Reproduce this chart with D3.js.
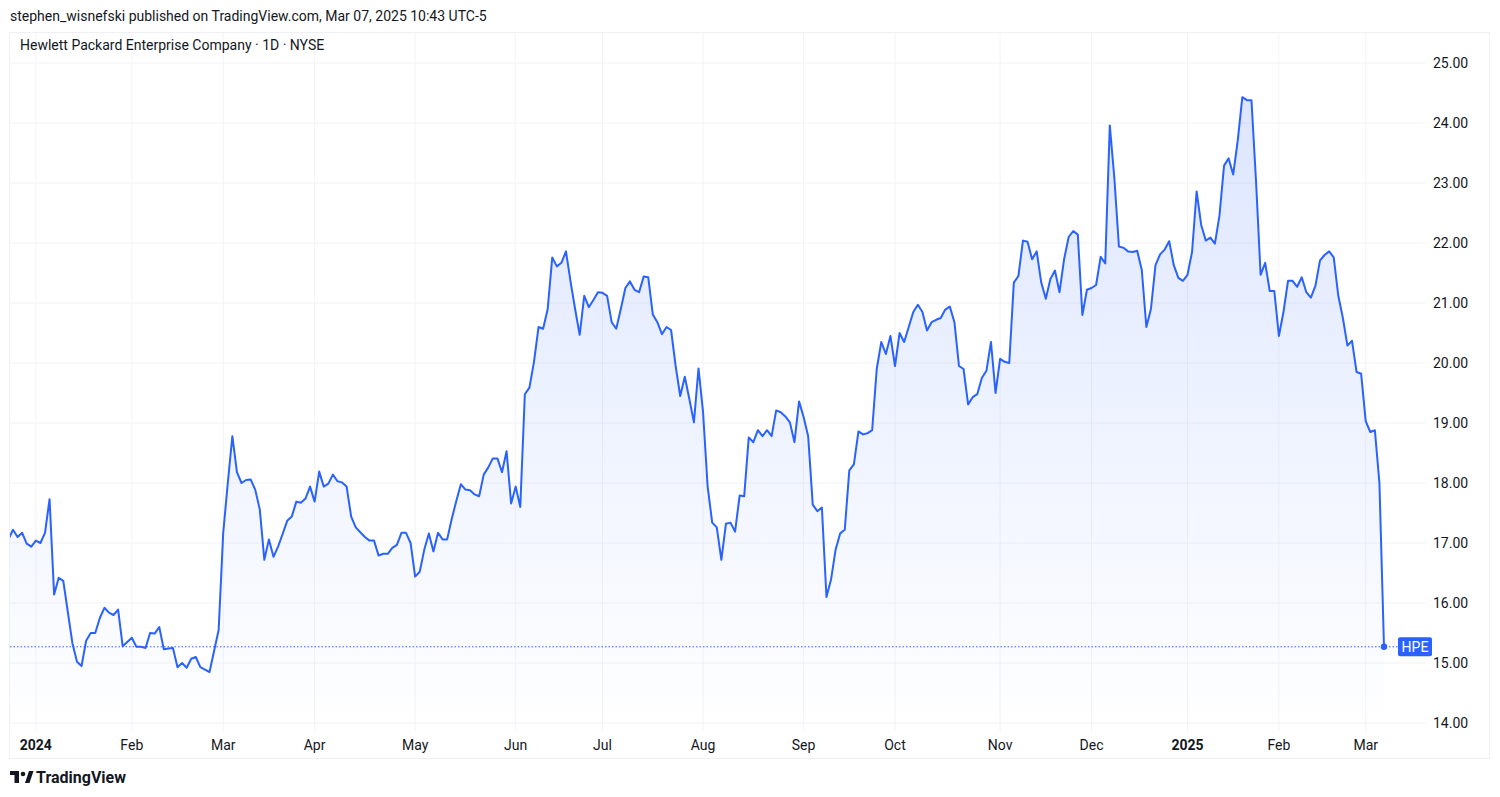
<!DOCTYPE html>
<html><head><meta charset="utf-8">
<script src="https://cdn.jsdelivr.net/npm/d3@7/dist/d3.min.js"></script>
<style>body{margin:0;background:#fff;font-family:Roboto,"Noto Sans",sans-serif;}</style>
</head><body><svg id="c" width="1500" height="797"></svg>
<script>
const title = "stephen_wisnefski published on TradingView.com, Mar 07, 2025 10:43 UTC-5";
const legend = "Hewlett Packard Enterprise Company · 1D · NYSE";
const symbol = "HPE";
const yTicks = [14,15,16,17,18,19,20,21,22,23,24,25];
const monthNames = ["Jan","Feb","Mar","Apr","May","Jun","Jul","Aug","Sep","Oct","Nov","Dec"];
const holidays = ["2023-12-25","2024-01-01","2024-01-15","2024-02-19","2024-03-29","2024-05-27","2024-06-19","2024-07-04","2024-09-02","2024-11-28","2024-12-25","2025-01-01","2025-01-09","2025-01-20","2025-02-17"];
const lastDate = "2025-03-07";
const closes2024H1 = [17.06,17.22,17.1,17.17,16.99,16.94,17.04,17.0,17.17,17.73,16.14,16.42,16.37,15.85,15.33,15.02,14.95,15.37,15.5,15.5,15.75,15.92,15.84,15.8,15.89,15.28,15.35,15.42,15.27,15.27,15.25,15.5,15.49,15.6,15.23,15.24,15.25,14.93,15.0,14.92,15.07,15.1,14.93,14.89,14.85,15.2,15.55,17.17,18.0,18.78,18.18,18.0,18.05,18.06,17.89,17.56,16.72,17.06,16.77,16.94,17.15,17.37,17.44,17.69,17.67,17.74,17.94,17.69,18.19,17.94,17.99,18.14,18.03,18.01,17.94,17.44,17.26,17.18,17.1,17.04,17.04,16.79,16.82,16.82,16.92,16.97,17.17,17.17,17.0,16.44,16.52,16.89,17.16,16.86,17.17,17.06,17.06,17.4,17.7,17.98,17.89,17.88,17.81,17.78,18.14,18.26,18.41,18.41];
const closes2024Mid = [18.18,18.53,17.66,17.94,17.6,19.48,19.59,20.02,20.6,20.57,20.9,21.76,21.61,21.67,21.86,21.36,20.9,20.47,21.12,20.93,21.05,21.18,21.17,21.12,20.68,20.57,20.9,21.25,21.36,21.22,21.18,21.44,21.43,20.81,20.68,20.48,20.6,20.55,19.95,19.45,19.77,19.4,19.01,19.91,19.18,17.94,17.34,17.26,16.72,17.32,17.34,17.19,17.79,17.78,18.76,18.68,18.88,18.78,18.88,18.78,19.21,19.18,19.11,19.01,18.68,19.36,19.1,18.78,17.64,17.53,17.59,16.1,16.39,16.89,17.16,17.22,18.21,18.31,18.86,18.81,18.83,18.88,19.9,20.35,20.15,20.45,19.95,20.5,20.35,20.6,20.85,20.97,20.85,20.54,20.68,20.72,20.75,20.89,20.94,20.68,19.95];
const closesLate = [19.9,19.31,19.43,19.48,19.75,19.87,20.35,19.5,20.07,20.02,20.0,21.34,21.45,22.04,22.02,21.73,21.86,21.34,21.07,21.4,21.54,21.18,21.73,22.1,22.2,22.14,20.8,21.22,21.25,21.3,21.77,21.66,23.96,23.08,21.94,21.92,21.86,21.85,21.87,21.55,20.6,20.9,21.63,21.81,21.89,22.03,21.63,21.42,21.37,21.47,21.85,22.86,22.3,22.04,22.09,21.99,22.46,23.29,23.41,23.14,23.71,24.43,24.38,24.38,23.03,21.47,21.67,21.2,21.2,20.45,20.85,21.37,21.37,21.27,21.43,21.18,21.09,21.29,21.71,21.8,21.86,21.76,21.12,20.75,20.29,20.37,19.85,19.82,19.03,18.85,18.88,18.0,15.27];
const closes = closes2024H1.concat(closes2024Mid, closesLate);
const n = closes.length;

const hol = new Set(holidays);
const fmt = d3.utcFormat("%Y-%m-%d");
const dates = [];
let d = new Date(lastDate + "T00:00:00Z");
while (dates.length < n) {
  const wd = d.getUTCDay();
  if (wd !== 0 && wd !== 6 && !hol.has(fmt(d))) dates.unshift(new Date(d));
  d = new Date(d.getTime() - 86400000);
}
const data = closes.map((v,i)=>({i, date: dates[i], v}));

const svg = d3.select("#c");
const lastX = 1384, step = 4.57;
const x = d3.scaleLinear().domain([0, n-1]).range([lastX - (n-1)*step, lastX]);
const y = d3.scaleLinear().domain([14, 25]).range([723, 63]);
const plotL = 10, plotR = 1426, plotT = 33, plotB = 731;

svg.append("rect").attr("x",9.5).attr("y",32.5).attr("width",1480).attr("height",726).attr("fill","none").attr("stroke","#eef0f5");

const ticks = [];
for (let i=1;i<n;i++){ if (data[i].date.getUTCMonth() !== data[i-1].date.getUTCMonth()) ticks.push(data[i]); }

svg.append("clipPath").attr("id","pc").append("rect").attr("x",plotL).attr("y",plotT).attr("width",plotR-plotL).attr("height",plotB-plotT);
const g = svg.append("g").attr("clip-path","url(#pc)");
g.selectAll(".hg").data(yTicks).join("line").attr("x1",plotL).attr("x2",plotR).attr("y1",v=>y(v)).attr("y2",v=>y(v)).attr("stroke","#f2f3f7");
g.selectAll(".vg").data(ticks).join("line").attr("x1",t=>x(t.i)).attr("x2",t=>x(t.i)).attr("y1",plotT).attr("y2",plotB).attr("stroke","#f2f3f7");

const maxY = y(d3.max(closes));
const grad = svg.append("defs").append("linearGradient").attr("id","gr").attr("gradientUnits","userSpaceOnUse")
  .attr("x1",0).attr("x2",0).attr("y1",maxY).attr("y2",plotB);
grad.append("stop").attr("offset","0%").attr("stop-color","#2962ff").attr("stop-opacity",0.16);
grad.append("stop").attr("offset","100%").attr("stop-color","#2962ff").attr("stop-opacity",0.0);

g.append("path").datum(data).attr("fill","url(#gr)")
  .attr("d", d3.area().x(p=>x(p.i)).y0(plotB).y1(p=>y(p.v)));
const last = data[n-1];
svg.append("line").attr("x1",plotL).attr("x2",1398).attr("y1",y(last.v)).attr("y2",y(last.v))
  .attr("stroke","#2962ff").attr("stroke-dasharray","1.5,2").attr("stroke-width",1);
g.append("path").datum(data).attr("fill","none").attr("stroke","#2962ff").attr("stroke-width",2).attr("stroke-linejoin","round")
  .attr("d", d3.line().x(p=>x(p.i)).y(p=>y(p.v)));
svg.append("circle").attr("cx",x(last.i)).attr("cy",y(last.v)).attr("r",3.2).attr("fill","#2962ff");

svg.selectAll(".yl").data(yTicks).join("text").attr("x",1433).attr("y",v=>y(v)+5)
  .attr("font-size",14).attr("fill","#131722").text(v=>v.toFixed(2));
svg.append("rect").attr("x",1398).attr("y",y(last.v)-9.5).attr("width",34).attr("height",19).attr("rx",2).attr("fill","#2962ff");
svg.append("text").attr("x",1415).attr("y",y(last.v)+5).attr("text-anchor","middle").attr("font-size",14).attr("fill","#fff").text(symbol);

svg.selectAll(".xl").data(ticks).join("text").attr("x",t=>x(t.i)).attr("y",750).attr("text-anchor","middle")
  .attr("font-size",14).attr("fill","#131722")
  .attr("font-weight",t=>t.date.getUTCMonth()===0?"bold":"normal")
  .text(t=>t.date.getUTCMonth()===0?String(t.date.getUTCFullYear()):monthNames[t.date.getUTCMonth()]);

svg.append("text").attr("x",10).attr("y",21).attr("font-size",14).attr("fill","#131722").text(title);
svg.append("text").attr("x",20).attr("y",50).attr("font-size",14).attr("fill","#131722").text(legend);
const lg = svg.append("g").attr("transform","translate(10,771)");
lg.append("rect").attr("x",0).attr("y",0).attr("width",9).attr("height",4).attr("fill","#131722");
lg.append("rect").attr("x",4.5).attr("y",0).attr("width",4.5).attr("height",12).attr("fill","#131722");
lg.append("circle").attr("cx",13).attr("cy",3).attr("r",2.3).attr("fill","#131722");
lg.append("path").attr("d","M15,12 L19,0 L23.5,0 L19.5,12 Z").attr("fill","#131722");
svg.append("text").attr("x",36).attr("y",783).attr("font-size",16).attr("font-weight","bold").attr("fill","#131722").text("TradingView");
</script></body></html>
